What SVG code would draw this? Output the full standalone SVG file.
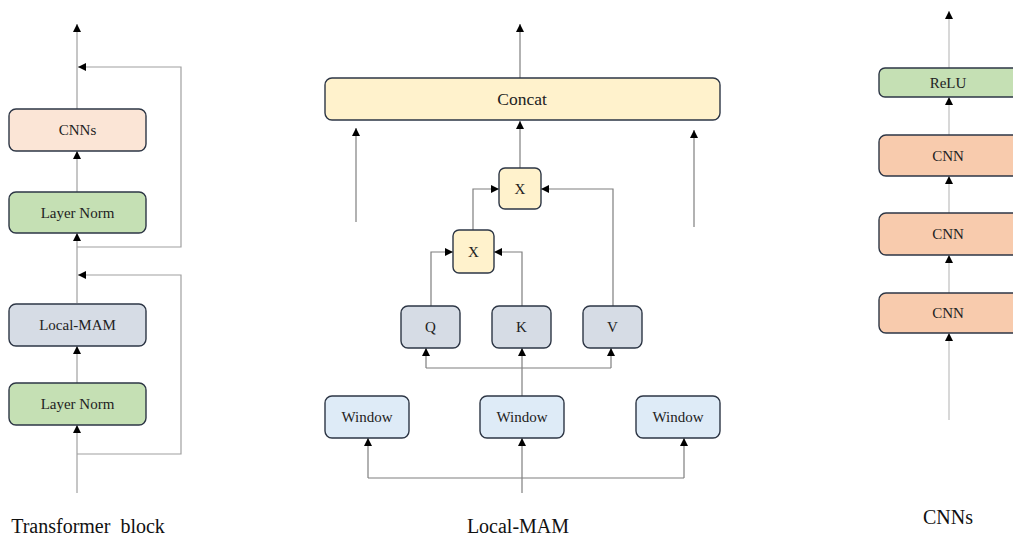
<svg xmlns="http://www.w3.org/2000/svg" width="1013" height="538" viewBox="0 0 1013 538">
<defs>
<marker id="ah" viewBox="0 0 10 10" refX="10" refY="5" markerWidth="9" markerHeight="8" markerUnits="userSpaceOnUse" orient="auto">
<path d="M0,0 L10,5 L0,10 z" fill="#000"/>
</marker>
<style>
.box{stroke:#2d3645;stroke-width:1.4}
.t{font-family:"Liberation Serif","Times New Roman",serif;font-size:15px;fill:#222;text-anchor:middle;dominant-baseline:central}
.cap{font-family:"Liberation Serif","Times New Roman",serif;font-size:20px;fill:#111;text-anchor:middle}
.cl{fill:none;stroke:#a0a0a0;stroke-width:1.2}
.cm{fill:none;stroke:#7f7f7f;stroke-width:1.2}
.cr{fill:none;stroke:#cfcfcf;stroke-width:1.6}
.a{marker-end:url(#ah)}
.peach{fill:#fbe5d6}.green{fill:#c5e0b4}.gray{fill:#d6dce5}.yellow{fill:#fff2cc}.blue{fill:#deebf7}.orange{fill:#f8cbad}
</style>
</defs>
<rect width="1013" height="538" fill="#fff"/>
<g id="connectors">
<!-- left panel -->
<line class="cl a" x1="77" y1="493" x2="77" y2="425"/>
<line class="cl a" x1="77" y1="383" x2="77" y2="346"/>
<line class="cl a" x1="77" y1="303" x2="77" y2="233"/>
<line class="cl a" x1="77" y1="192" x2="77" y2="151"/>
<line class="cl a" x1="77" y1="109" x2="77" y2="24"/>
<polyline class="cl a" points="77,454 181,454 181,275 78,275"/>
<polyline class="cl a" points="77,247 181,247 181,67 78,67"/>
<!-- middle panel -->
<line class="cm a" x1="520" y1="78" x2="520" y2="24"/>
<line class="cm a" x1="520" y1="168" x2="520" y2="121"/>
<line class="cm a" x1="356" y1="222" x2="356" y2="128"/>
<line class="cm a" x1="694" y1="227" x2="694" y2="130"/>
<polyline class="cm a" points="473,230 473,189 499,189"/>
<polyline class="cm a" points="613,306 613,189 541,189"/>
<polyline class="cm a" points="431,306 431,252 453,252"/>
<polyline class="cm a" points="522,306 522,252 494,252"/>
<line class="cm a" x1="522" y1="397" x2="522" y2="348"/>
<line class="cm" x1="426" y1="368" x2="611" y2="368"/>
<line class="cm a" x1="426" y1="368" x2="426" y2="348"/>
<line class="cm a" x1="611" y1="368" x2="611" y2="348"/>
<line class="cm a" x1="522" y1="493" x2="522" y2="438"/>
<line class="cm" x1="368" y1="478" x2="684" y2="478"/>
<line class="cm a" x1="368" y1="478" x2="368" y2="438"/>
<line class="cm a" x1="684" y1="478" x2="684" y2="438"/>
<!-- right panel -->
<line class="cr a" x1="949" y1="420" x2="949" y2="333"/>
<line class="cr a" x1="949" y1="293" x2="949" y2="255"/>
<line class="cr a" x1="949" y1="213" x2="949" y2="176"/>
<line class="cr a" x1="949" y1="135" x2="949" y2="97"/>
<line class="cr a" x1="949" y1="68" x2="949" y2="11"/>
</g>
<!-- left panel nodes -->
<g id="tb-cnns"><rect class="box peach" x="9" y="109" width="137" height="42" rx="7"/><text class="t" x="77.5" y="130">CNNs</text></g>
<g id="tb-ln1"><rect class="box green" x="9" y="192" width="137" height="41" rx="7"/><text class="t" x="77.5" y="213">Layer  Norm</text></g>
<g id="tb-mam"><rect class="box gray" x="9" y="304" width="137" height="42" rx="7"/><text class="t" x="77.5" y="325">Local-MAM</text></g>
<g id="tb-ln2"><rect class="box green" x="9" y="383" width="137" height="42" rx="7"/><text class="t" x="77.5" y="404">Layer  Norm</text></g>
<!-- middle panel nodes -->
<g id="concat"><rect class="box yellow" x="325" y="78" width="395" height="42" rx="7"/><text class="t" x="522" y="99" style="font-size:17.5px">Concat</text></g>
<g id="x-upper"><rect class="box yellow" x="499" y="168" width="42" height="41" rx="6"/><text class="t" x="520" y="189">X</text></g>
<g id="x-lower"><rect class="box yellow" x="453" y="230" width="41" height="43" rx="6"/><text class="t" x="473.5" y="252">X</text></g>
<g id="q"><rect class="box gray" x="401" y="306" width="59" height="42" rx="7"/><text class="t" x="430.5" y="327">Q</text></g>
<g id="k"><rect class="box gray" x="492" y="306" width="59" height="42" rx="7"/><text class="t" x="521.5" y="327">K</text></g>
<g id="v"><rect class="box gray" x="583" y="306" width="59" height="42" rx="7"/><text class="t" x="612.5" y="327">V</text></g>
<g id="win1"><rect class="box blue" x="325" y="396" width="84" height="42" rx="7"/><text class="t" x="367" y="417">Window</text></g>
<g id="win2"><rect class="box blue" x="480" y="396" width="84" height="42" rx="7"/><text class="t" x="522" y="417">Window</text></g>
<g id="win3"><rect class="box blue" x="636" y="396" width="84" height="42" rx="7"/><text class="t" x="678" y="417">Window</text></g>
<!-- right panel nodes -->
<g id="relu"><rect class="box green" x="879" y="68" width="145" height="29" rx="6"/><text class="t" x="948" y="83">ReLU</text></g>
<g id="cnn1"><rect class="box orange" x="879" y="135" width="145" height="41" rx="7"/><text class="t" x="948" y="156">CNN</text></g>
<g id="cnn2"><rect class="box orange" x="879" y="213" width="145" height="42" rx="7"/><text class="t" x="948" y="234">CNN</text></g>
<g id="cnn3"><rect class="box orange" x="879" y="293" width="145" height="40" rx="7"/><text class="t" x="948" y="313">CNN</text></g>
<!-- captions -->
<text class="cap" x="88" y="533" xml:space="preserve">Transformer  block</text>
<text class="cap" x="518" y="533">Local-MAM</text>
<text class="cap" x="948" y="524">CNNs</text>
</svg>
